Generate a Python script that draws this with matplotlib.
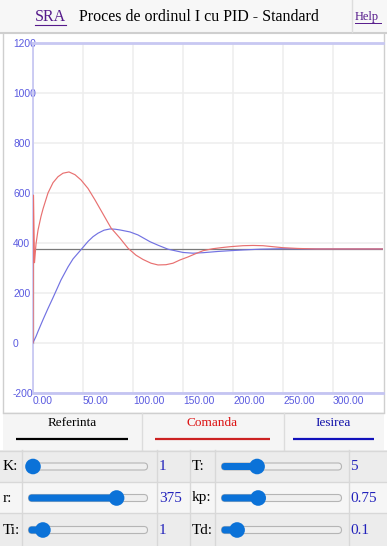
import matplotlib
matplotlib.use("Agg")
import matplotlib.pyplot as plt
from matplotlib.patches import Rectangle, FancyBboxPatch, Circle
from matplotlib.transforms import ScaledTranslation

# ---------------- data ----------------
ref_t = [0, 0, 350]
ref_v = [0, 375, 375]

cmd_t = [0, 0.5, 1.5, 3, 5, 8, 10, 15, 20, 25, 30, 36, 42, 48, 55, 62, 70, 78, 87, 95,
         103, 110, 118, 125, 133, 140, 147, 155, 162, 170, 180, 190, 197, 210,
         220, 230, 240, 250, 265, 283, 300, 350]
cmd_v = [0, 590, 320, 395, 450, 505, 535, 599, 640, 664, 678, 683, 672, 651, 617, 571, 515,
         459, 418, 378, 350, 333, 318, 311, 312, 318, 331, 343, 355, 368, 376, 381,
         384, 388, 389, 388, 384, 380, 377, 375, 375, 375]

out_t = [0, 3, 5, 10, 15, 20, 28, 35, 40, 48, 55, 60, 65, 71, 77, 82, 87, 97, 105, 117, 125,
         135, 150, 160, 170, 185, 197, 210, 227, 250, 280, 350]
out_v = [0, 25, 45, 92, 137, 180, 251, 303, 335, 372, 405, 424, 438, 450, 455, 454, 451,
         443, 431, 404, 390, 374, 361, 358, 360, 365, 368, 371, 374, 376, 375, 375]

x_ticks = [0, 50, 100, 150, 200, 250, 300]
x_labels = ["0.00", "50.00", "100.00", "150.00", "200.00", "250.00", "300.00"]
y_ticks = [-200, 0, 200, 400, 600, 800, 1000, 1200]
y_labels = ["-200", "0", "200", "400", "600", "800", "1000", "1200"]

legend_names = ["Referinta", "Comanda", "Iesirea"]
legend_text_colors = ["black", "#dd1111", "#1111aa"]
legend_line_colors = ["black", "#cc2222", "#1111bb"]

param_names = ["K:", "T:", "r:", "kp:", "Ti:", "Td:"]
param_values = ["1", "5", "375", "0.75", "1", "0.1"]
param_fracs = [0.0, 0.28, 0.76, 0.29, 0.09, 0.10]   # slider thumb positions

title = "Proces de ordinul I cu PID - Standard"

# ---------------- figure ----------------
W, H = 387, 546
fig = plt.figure(figsize=(W / 100, H / 100), dpi=100)
fig.patch.set_facecolor("white")

ov = fig.add_axes([0, 0, 1, 1], zorder=0)
ov.set_xlim(0, W)
ov.set_ylim(H, 0)
ov.axis("off")

serif = ["Liberation Serif", "DejaVu Serif"]
sans = ["Liberation Sans", "DejaVu Sans"]

# header
ov.add_patch(Rectangle((0, 0), W, 32, facecolor="#f7f7f7", edgecolor="none"))
ov.plot([0, W], [32.5, 32.5], color="#cfcfcf", lw=1.5)
ov.plot([352, 352], [0, 32], color="#dddddd", lw=1)
ov.text(35, 17, "SRA", family=serif, fontsize=11.5, color="#551a8b", va="center", ha="left")
ov.plot([35, 66], [24.5, 24.5], color="#551a8b", lw=0.8)
ov.text(79, 17, title, family=serif, fontsize=11.5, color="black", va="center", ha="left")
ov.text(355, 17, "Help", family=serif, fontsize=9, color="#551a8b", va="center", ha="left")
ov.plot([355, 381], [22.5, 22.5], color="#551a8b", lw=0.7)

# chart panel border
ov.plot([3, 3], [33, 412], color="#cfcfcf", lw=1)
ov.plot([384, 384], [33, 412], color="#cfcfcf", lw=1)

# legend row
ov.add_patch(Rectangle((3, 412), 381, 38, facecolor="#f5f5f5", edgecolor="none"))
ov.plot([3, 384], [412.5, 412.5], color="#cfcfcf", lw=1)
for xd in (141.5, 283.5):
    ov.plot([xd, xd], [413, 450], color="#dcdcdc", lw=1)
leg_cx = [72, 212, 333]
leg_x0 = [16, 155, 293]
leg_x1 = [128, 270, 374]
for i in range(3):
    ov.text(leg_cx[i], 423, legend_names[i], family=serif, fontsize=9.5,
            color=legend_text_colors[i], ha="center", va="center")
    ov.plot([leg_x0[i], leg_x1[i]], [439, 439], color=legend_line_colors[i], lw=1.6,
            solid_capstyle="butt")

# slider table
row_top = [450, 482, 513]
row_bot = [482, 513, 546]
row_bg = ["#ececec", "#f6f6f6", "#ececec"]
for i in range(3):
    ov.add_patch(Rectangle((0, row_top[i]), W, row_bot[i] - row_top[i],
                           facecolor=row_bg[i], edgecolor="none"))
for yl in (450.5, 482, 513):
    ov.plot([0, W], [yl, yl], color="#d8d8d8", lw=1)
for xl in (22, 157, 190, 215, 349):
    ov.plot([xl, xl], [450, 546], color="#d8d8d8", lw=1)

lab_x = [3, 192]
val_x = [159, 350]
trk_x0 = [25, 218]
trk_x1 = [151, 345]
blue = "#0b72d8"
for i in range(6):
    r, c = divmod(i, 2)
    cy = (row_top[r] + row_bot[r]) / 2 + 0.5
    ov.text(lab_x[c], cy, param_names[i], family=serif, fontsize=11, color="black",
            ha="left", va="center")
    ov.text(val_x[c], cy, param_values[i], family=serif, fontsize=11, color="#2222bb",
            ha="left", va="center")
    x0, x1 = trk_x0[c], trk_x1[c]
    ov.add_patch(FancyBboxPatch((x0 + 3.5, cy - 3.5), x1 - x0 - 7, 7,
                                boxstyle="round,pad=0,rounding_size=3.5",
                                facecolor="#efefef", edgecolor="#b5b5b5", lw=0.8))
    tx = x0 + 8 + param_fracs[i] * (x1 - x0 - 16)
    ov.add_patch(FancyBboxPatch((x0 + 3.5, cy - 3.5), max(tx - x0 - 3.5, 0.1), 7,
                                boxstyle="round,pad=0,rounding_size=3.5",
                                facecolor=blue, edgecolor="none"))
    ov.add_patch(Circle((tx, cy), 7.8, facecolor=blue, edgecolor="none"))

# ---------------- plot axes ----------------
ax_l, ax_r, ax_t, ax_b = 33, 383, 42.7, 392.7
ax = fig.add_axes([ax_l / W, 1 - ax_b / H, (ax_r - ax_l) / W, (ax_b - ax_t) / H], zorder=1)
ax.set_facecolor("none")
ax.set_xlim(0, 350)
ax.set_ylim(-200, 1200)
for s in ("right", "top"):
    ax.spines[s].set_visible(False)
ax.spines["left"].set_color("#c4c4f2")
ax.spines["left"].set_linewidth(1.2)
ax.spines["bottom"].set_color("#c4c4f2")
ax.spines["bottom"].set_linewidth(2)
ax.axhline(1200, color="#c8c8f2", lw=2, clip_on=False, zorder=3)

ax.set_xticks(x_ticks)
ax.set_xticklabels(x_labels)
ax.set_yticks(y_ticks)
ax.set_yticklabels(y_labels)
ax.tick_params(axis="both", length=0, labelcolor="#5a5ae0", labelsize=7.4)
for lab in ax.get_xticklabels():
    lab.set_fontfamily(sans)
    lab.set_horizontalalignment("left")
ax.tick_params(axis="x", pad=2.5)
for lab in ax.get_yticklabels():
    lab.set_fontfamily(sans)
    lab.set_horizontalalignment("left")
    lab.set_transform(lab.get_transform() + ScaledTranslation(0, 2.5 / 100, fig.dpi_scale_trans))
ax.tick_params(axis="y", pad=20 / 100 * 72)

ax.grid(True, color="#eeeeee", lw=1.1, zorder=0)
ax.set_axisbelow(True)

ax.plot(ref_t, ref_v, color="#7a7a7a", lw=0.9, zorder=2)
ax.plot(out_t, out_v, color="#7272e2", lw=0.85, zorder=3)
ax.plot(cmd_t, cmd_v, color="#e87070", lw=0.85, zorder=4)

fig.savefig("out.png", dpi=100)
